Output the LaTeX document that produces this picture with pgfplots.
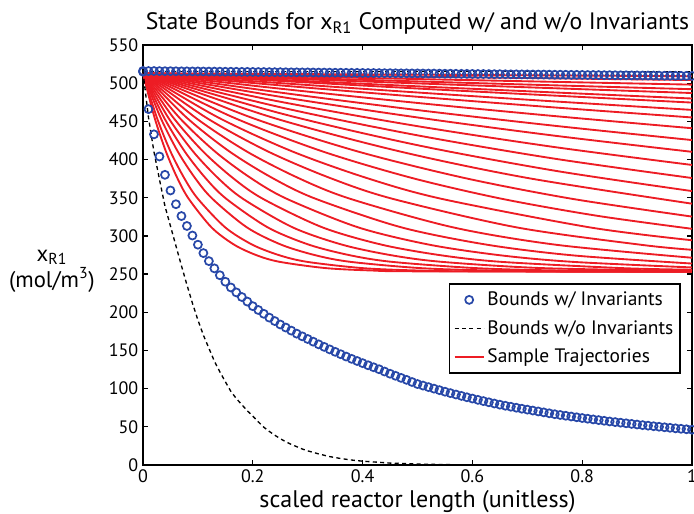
\documentclass[border=0pt]{standalone}
\usepackage{fontspec}
\setmainfont{PT Sans}
\usepackage{pgfplots}
\pgfplotsset{compat=1.18}
\usepackage{pgfplotstable}
\definecolor{myblue}{RGB}{40,72,168}
\definecolor{myred}{RGB}{237,28,36}

\pgfplotstableread{
x lo hi
0.00 515 516.0
0.01 466 515.9
0.02 433 515.9
0.03 404 515.8
0.04 380 515.7
0.05 359.5 515.7
0.06 341.5 515.6
0.07 326 515.5
0.08 313 515.5
0.09 300.5 515.4
0.10 288.5 515.4
0.11 277.5 515.3
0.12 267 515.2
0.13 257.5 515.2
0.14 248.5 515.1
0.15 240 515.0
0.16 232.5 515.0
0.17 226 514.9
0.18 220 514.8
0.19 214 514.8
0.20 208 514.7
0.21 203 514.6
0.22 198 514.6
0.23 193 514.5
0.24 188.5 514.4
0.25 184 514.4
0.26 180 514.3
0.27 176 514.2
0.28 172 514.2
0.29 168.5 514.1
0.30 165 514.1
0.31 161.5 514.0
0.32 158 513.9
0.33 154.7 513.9
0.34 151.4 513.8
0.35 148.2 513.7
0.36 145.1 513.7
0.37 142 513.6
0.38 139 513.5
0.39 136.2 513.5
0.40 133.4 513.4
0.41 130.6 513.3
0.42 128 513.3
0.43 125.4 513.2
0.44 122.4 513.1
0.45 119.5 513.1
0.46 116.8 513.0
0.47 114.1 512.9
0.48 111.5 512.9
0.49 108.7 512.8
0.50 106 512.8
0.51 104 512.7
0.52 102 512.6
0.53 100 512.6
0.54 98 512.5
0.55 96 512.4
0.56 94.1 512.4
0.57 92.3 512.3
0.58 90.5 512.2
0.59 88.7 512.2
0.60 87 512.1
0.61 85.3 512.0
0.62 83.7 512.0
0.63 82.1 511.9
0.64 80.5 511.8
0.65 79 511.8
0.66 77.6 511.7
0.67 76.3 511.6
0.68 75 511.6
0.69 73.7 511.5
0.70 72.5 511.5
0.71 71.3 511.4
0.72 70.1 511.3
0.73 68.9 511.3
0.74 67.7 511.2
0.75 66.5 511.1
0.76 65.5 511.1
0.77 64.5 511.0
0.78 63.5 510.9
0.79 62.5 510.9
0.80 61.5 510.8
0.81 60.6 510.7
0.82 59.7 510.7
0.83 58.8 510.6
0.84 57.9 510.5
0.85 57 510.5
0.86 56.2 510.4
0.87 55.4 510.3
0.88 54.6 510.3
0.89 53.8 510.2
0.90 53 510.2
0.91 52.2 510.1
0.92 51.5 510.0
0.93 50.8 510.0
0.94 50.1 509.9
0.95 49.4 509.8
0.96 48.7 509.8
0.97 48 509.7
0.98 47.4 509.6
0.99 46.8 509.6
1.00 46.2 509.5
}\circdata

\pgfplotstableread{
x lo
0.00 515
0.01 455
0.02 410
0.03 374
0.04 339
0.05 313
0.06 287
0.07 261
0.08 236
0.09 212
0.10 190
0.11 170
0.12 153
0.13 136
0.14 122
0.15 109
0.16 96.5
0.17 87
0.18 79
0.19 71
0.20 64
0.21 56.5
0.22 49.5
0.23 44
0.24 39
0.25 34.5
0.26 30.5
0.27 27
0.28 24
0.29 21
0.30 18.5
0.32 14.5
0.34 11
0.36 8.5
0.38 6.5
0.40 5
0.45 2.5
0.50 1.2
0.55 0.5
0.60 0.2
0.70 0
1.00 0
}\dashdata

\begin{document}
\begin{tikzpicture}
\begin{axis}[
  scale only axis, width=411.75pt, height=315pt,
  xmin=0, xmax=1, ymin=0, ymax=550,
  xtick={0,0.2,0.4,0.6,0.8,1}, ytick={0,50,...,550},
  tick align=inside, major tick length=4pt,
  axis line style={line width=1.3pt},
  every tick/.style={black, line width=0.9pt},
  /pgf/number format/assume math mode=true,
  tick label style={font=\fontsize{13.5}{15}\selectfont},
  clip=false,
  title={State Bounds for x\textsubscript{R1} Computed w/ and w/o Invariants},
  every axis title/.style={at={(axis description cs:0.5,1)}, anchor=base, yshift=11.5pt, font=\fontsize{17.8}{20}\selectfont},
  xlabel={scaled reactor length (unitless)},
  every axis x label/.style={at={(axis description cs:0.5,0)}, anchor=base, yshift=-32pt, font=\fontsize{18}{20}\selectfont},
  ylabel={x\textsubscript{R1}\\(mol/m\textsuperscript{3})},
  every axis y label/.style={at={(axis description cs:-0.166,0.462)}, anchor=center, align=center, font=\fontsize{17}{19.5}\selectfont},
  legend style={at={(axis description cs:0.557,0.433)}, anchor=north west, draw=black, line width=1.2pt, fill=white,
    font=\fontsize{14.6}{17}\selectfont, row sep=5.5pt, inner xsep=3pt, inner ysep=4pt},
  legend cell align=left,
  legend image code/.code={\draw[mark repeat=2,mark phase=2,#1] plot coordinates {(0pt,0pt) (11pt,0pt) (22pt,0pt)};},
]
\addlegendimage{only marks, mark=o, mark size=3pt, myblue, line width=1.3pt}
\addlegendentry{Bounds w/ Invariants}
\addlegendimage{black, dash pattern=on 3pt off 2.5pt, line width=1pt}
\addlegendentry{Bounds w/o Invariants}
\addlegendimage{myred, line width=1.4pt}
\addlegendentry{Sample Trajectories}

\pgfplotsset{every axis plot/.append style={forget plot}}
\addplot[myred, line width=1.4pt, smooth] coordinates {(0,513)(0.5,511.1)(1,509.1)};
\addplot[myred, line width=1.4pt, smooth] coordinates {(0,513)(0.5,508.5)(1,504.1)};
\addplot[myred, line width=1.4pt, smooth] coordinates {(0,513)(0.5,505.4)(1,498.1)};
\addplot[myred, line width=1.4pt, smooth] coordinates {(0,513)(0.5,502.3)(1,492.1)};
\addplot[myred, line width=1.4pt, smooth] coordinates {(0,513)(0.5,499.7)(1,487.1)};
\addplot[myred, line width=1.4pt, smooth] coordinates {(0,513)(0.5,495.9)(1,479.9)};
\addplot[myred, line width=1.4pt, smooth] coordinates {(0,513)(0.5,493.0)(1,474.6)};
\addplot[myred, line width=1.4pt, smooth] coordinates {(0,513)(0.25,500.1)(0.5,487.8)(0.75,476.1)(1,465.0)};
\addplot[myred, line width=1.4pt, smooth] coordinates {(0,513)(0.25,497.1)(0.5,482.2)(0.75,468.2)(1,455.1)};
\addplot[myred, line width=1.4pt, smooth] coordinates {(0,513)(0.25,492.8)(0.5,474.1)(0.75,456.9)(1,441.0)};
\addplot[myred, line width=1.4pt, smooth] coordinates {(0,513)(0.25,487.7)(0.5,464.8)(0.75,444.2)(1,425.5)};
\addplot[myred, line width=1.4pt, smooth] coordinates {(0,513)(0.25,482.2)(0.5,455.1)(0.75,431.2)(1,410.1)};
\addplot[myred, line width=1.4pt, smooth] coordinates {(0,513)(0.25,475.7)(0.5,443.7)(0.75,416.3)(1,392.9)};
\addplot[myred, line width=1.4pt, smooth] coordinates {(0,513)(0.25,468.5)(0.5,431.7)(0.75,401.1)(1,375.8)};
\addplot[myred, line width=1.4pt, smooth] coordinates {(0,513)(0.25,460.6)(0.5,418.8)(0.75,385.4)(1,358.7)};
\addplot[myred, line width=1.4pt, smooth] coordinates {(0,513)(0.2336,455.5)(0.4673,410.7)(0.7009,375.8)(1,342.2)};
\addplot[myred, line width=1.4pt, smooth] coordinates {(0,513)(0.1953,455.5)(0.3906,410.7)(0.5859,375.8)(0.7813,348.6)(1,325.3)};
\addplot[myred, line width=1.4pt, smooth] coordinates {(0,513)(0.1634,455.5)(0.3268,410.7)(0.4902,375.8)(0.6536,348.6)(0.8268,326.4)(1,309.3)};
\addplot[myred, line width=1.4pt, smooth] coordinates {(0,513)(0.1359,455.5)(0.2717,410.7)(0.4076,375.8)(0.5435,348.6)(0.8152,311.0)(1,294.3)};
\addplot[myred, line width=1.4pt, smooth] coordinates {(0,513)(0.1136,455.5)(0.2273,410.7)(0.3409,375.8)(0.4545,348.6)(0.6818,311.0)(0.9091,288.2)(1,281.8)};
\addplot[myred, line width=1.4pt, smooth] coordinates {(0,513)(0.0943,455.5)(0.1887,410.7)(0.2830,375.8)(0.3774,348.6)(0.5660,311.0)(0.7547,288.2)(1,271.4)};
\addplot[myred, line width=1.4pt, smooth] coordinates {(0,513)(0.0786,455.5)(0.1572,410.7)(0.2358,375.8)(0.3145,348.6)(0.4717,311.0)(0.6289,288.2)(0.7862,274.3)(1,263.8)};
\addplot[myred, line width=1.4pt, smooth] coordinates {(0,513)(0.0654,455.5)(0.1309,410.7)(0.1963,375.8)(0.2618,348.6)(0.3927,311.0)(0.5236,288.2)(0.6545,274.3)(0.7853,265.9)(1,258.7)};
\addplot[myred, line width=1.4pt, smooth] coordinates {(0,513)(0.0546,455.5)(0.1092,410.7)(0.1638,375.8)(0.2183,348.6)(0.3275,311.0)(0.4367,288.2)(0.5459,274.3)(0.6550,265.9)(0.8734,257.8)(1,255.7)};
\addplot[myred, line width=1.4pt, smooth] coordinates {(0,513)(0.0455,455.5)(0.0911,410.7)(0.1366,375.8)(0.1821,348.6)(0.2732,311.0)(0.3643,288.2)(0.4554,274.3)(0.5464,265.9)(0.7286,257.8)(1,254.1)};
\addplot[myred, line width=1.4pt, smooth] coordinates {(0,513)(0.0379,455.5)(0.0759,410.7)(0.1138,375.8)(0.1517,348.6)(0.2276,311.0)(0.3035,288.2)(0.3794,274.3)(0.4552,265.9)(0.6070,257.8)(0.7587,254.7)(1,253.4)};
\addplot[myred, line width=1.4pt, smooth] coordinates {(0,513)(0.0316,455.5)(0.0632,410.7)(0.0948,375.8)(0.1264,348.6)(0.1896,311.0)(0.2528,288.2)(0.3161,274.3)(0.3793,265.9)(0.5057,257.8)(0.6321,254.7)(0.7585,253.6)(1,253.1)};
\addplot[myred, line width=1.4pt, smooth] coordinates {(0,513)(0.025,455.5)(0.05,410.7)(0.075,375.8)(0.1,348.6)(0.15,311.0)(0.2,288.2)(0.25,274.3)(0.3,265.9)(0.4,257.8)(0.5,254.7)(0.6,253.6)(1,253.0)};
\addplot[myred, line width=1.4pt, smooth] coordinates {(0,513)(0.0208,455.5)(0.0417,410.7)(0.0625,375.8)(0.0833,348.6)(0.125,311.0)(0.1667,288.2)(0.2083,274.3)(0.25,265.9)(0.3333,257.8)(0.4167,254.7)(0.5,253.6)(1,253.0)};

\addplot[only marks, mark=o, mark size=3pt, myblue, line width=1.3pt] table[x=x,y=hi]{\circdata};
\addplot[only marks, mark=o, mark size=3pt, myblue, line width=1.3pt] table[x=x,y=lo]{\circdata};
\addplot[black, dash pattern=on 3pt off 2.5pt, line width=1pt] table[x=x,y=lo]{\dashdata};
\addplot[black, dash pattern=on 3pt off 2.5pt, line width=1pt] coordinates {(0,515.5)(1,515.5)};
\end{axis}
\pgfresetboundingbox
\path (-107.25pt,-36.75pt) rectangle (413.25pt,348.75pt);
\end{tikzpicture}
\end{document}
